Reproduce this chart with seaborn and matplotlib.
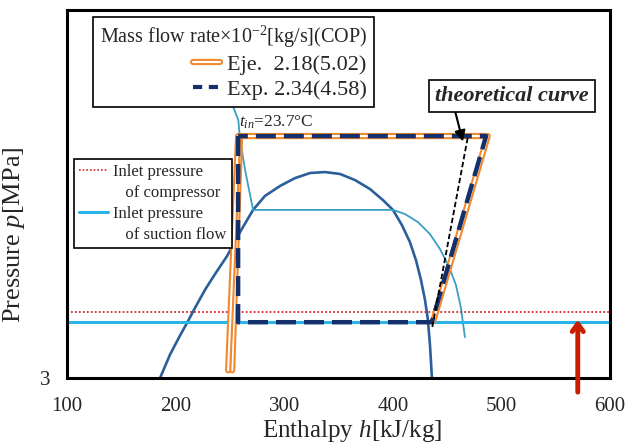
import numpy as np
import pandas as pd
import seaborn as sns
import matplotlib.pyplot as plt
import matplotlib.patheffects as pe
from matplotlib.lines import Line2D

# saturation dome of CO2, h [kJ/kg] vs p [MPa]
dome_h = [185.6, 194.8, 204.1, 210.5, 217.9, 227.1, 236.3, 247.3, 259.3, 271.3, 282.3,
          296.1, 309.9, 323.8, 337.6, 351.4, 365.2, 379.0, 391.0, 400.2, 408.5, 415.8,
          421.4, 426.0, 429.7, 432.4, 434.3, 436.1]
dome_p = [3.00, 3.32, 3.61, 3.81, 4.07, 4.40, 4.71, 5.09, 5.65, 6.22, 6.61,
          6.90, 7.14, 7.30, 7.33, 7.27, 7.08, 6.81, 6.49, 6.22, 5.82, 5.41,
          5.00, 4.59, 4.21, 3.86, 3.46, 3.00]

# isotherm t_in = 23.7 C
iso_h = [252.0, 257.7, 259.3, 264.0, 271.3, 400.2, 411.2, 423.2, 434.3, 443.5, 451.7,
         458.2, 462.8, 466.5]
iso_p = [9.85, 9.18, 8.43, 7.38, 6.22, 6.22, 6.11, 5.90, 5.60, 5.25, 4.87,
         4.49, 4.07, 3.58]

# Exp. cycle (closed)
exp_h = [257.5, 257.5, 436, 486, 257.5]
exp_p = [8.57, 3.82, 3.82, 8.57, 8.57]

# Eje. cycle (two legs on the left side)
eje_h = [437.5, 487.5, 257.5, 248.3]
eje_p = [3.85, 8.57, 8.57, 3.10]
eje2_h = [259.3, 252.0]
eje2_p = [8.57, 3.10]

# theoretical compression line
theo_h = [469, 436]
theo_p = [8.50, 3.70]

p_comp = 4.00      # inlet pressure of compressor
p_suct = 3.82      # inlet pressure of suction flow

x_ticks = [100, 200, 300, 400, 500, 600]
y_ticks = [3, 6, 9, 12]
y_ticklabels = ['3', '', '', '']

sns.set_style("white")
plt.rcParams['font.family'] = ['Liberation Serif', 'DejaVu Serif']
plt.rcParams['mathtext.fontset'] = 'custom'
plt.rcParams['mathtext.rm'] = 'Liberation Serif'
plt.rcParams['mathtext.it'] = 'Liberation Serif:italic'
plt.rcParams['mathtext.bf'] = 'Liberation Serif:bold'

orange = '#f0892e'
navy = '#14306b'
dome_c = '#2b5f9c'
teal = '#3a9fc2'
cyan = '#2bb5e6'
red = '#d8262a'

fig = plt.figure(figsize=(6.28, 4.43), dpi=100)
ax = fig.add_axes([0.107, 0.147, 0.864, 0.830])

def line(h, p, **kw):
    sns.lineplot(x=h, y=p, sort=False, estimator=None, ax=ax, **kw)

line(dome_h, dome_p, color=dome_c, lw=1.9)
line(iso_h, iso_p, color=teal, lw=1.3)

ax.axhline(p_comp, color=red, lw=1.3, ls=(0, (1, 1.2)))
ax.axhline(p_suct, color=cyan, lw=2.2)

dbl = [pe.Stroke(linewidth=4.5, foreground=orange), pe.Normal()]
line(eje2_h, eje2_p, color='white', lw=1.5, path_effects=dbl)
line(eje_h, eje_p, color='white', lw=1.5, path_effects=dbl)
line(exp_h, exp_p, color=navy, lw=3.2, dashes=(4.5, 1.8))
line(theo_h, theo_p, color='black', lw=1.3, dashes=(3, 1.5))

ax.set_yscale('log')
ax.set_xlim(100, 600)
ax.set_ylim(3, 14.8)
ax.set_xticks(x_ticks)
ax.set_xticklabels([str(v) for v in x_ticks])
ax.set_yticks(y_ticks)
ax.set_yticklabels(y_ticklabels)
ax.minorticks_off()
ax.tick_params(direction='in', length=5, width=1.5, labelsize=15)
ax.tick_params(axis='x', pad=14)
ax.tick_params(axis='y', pad=12)
for s in ax.spines.values():
    s.set_linewidth(2.2)
    s.set_color('black')

ax.set_xlabel('Enthalpy $h$[kJ/kg]', fontsize=18)
ax.set_ylabel('Pressure $p$[MPa]', fontsize=19)
ax.xaxis.set_label_coords(0.524, -0.108)
ax.yaxis.set_label_coords(-0.075, 0.389)

ax.text(258.5, 8.75, '$t_{in}$=23.7°C', fontsize=12.5, ha='left', va='bottom')

ax.annotate('theoretical curve', xy=(464.6, 8.37), xytext=(510, 10.2),
            fontsize=16, fontweight='bold', fontstyle='italic', ha='center', va='center',
            bbox=dict(boxstyle='square,pad=0.28', fc='white', ec='black', lw=1.2),
            arrowprops=dict(arrowstyle='-|>', color='black', lw=1.5,
                            relpos=(0.12, 0), shrinkA=0, shrinkB=0))

ax.annotate('', xy=(570.5, 3.86), xytext=(570.5, 2.82), annotation_clip=False,
            arrowprops=dict(arrowstyle='->, head_length=0.55, head_width=0.4',
                            color='#c81e00', lw=3.5, shrinkA=0, shrinkB=0))

h_eje = Line2D([], [], color='white', lw=1.5, path_effects=dbl)
h_exp = Line2D([], [], color=navy, lw=3.0, dashes=(2.2, 1.6))
leg1 = ax.legend([h_eje, h_exp], ['Eje.  2.18(5.02)', 'Exp. 2.34(4.58)'],
                 title='Mass flow rate×10$^{-2}$[kg/s](COP)', title_fontsize=14.5,
                 fontsize=16, alignment='right', loc='upper left',
                 bbox_to_anchor=(0.048, 0.981), borderaxespad=0, fancybox=False,
                 edgecolor='black', framealpha=1, handlelength=1.2, handletextpad=0.35,
                 labelspacing=0.2, borderpad=0.3)
leg1.get_frame().set_linewidth(1.2)
ax.add_artist(leg1)

h_red = Line2D([], [], color=red, lw=1.2, ls=(0, (1, 1.2)))
h_cyan = Line2D([], [], color=cyan, lw=2.2)
h_none = Line2D([], [], color='none')
leg2 = ax.legend([h_red, h_none, h_cyan, h_none],
                 ['Inlet pressure', '   of compressor', 'Inlet pressure', '   of suction flow'],
                 fontsize=12, loc='upper left', bbox_to_anchor=(0.013, 0.595),
                 borderaxespad=0, fancybox=False, edgecolor='black', framealpha=1,
                 handlelength=1.75, handletextpad=0.3, labelspacing=0.3, borderpad=0.3)
leg2.get_frame().set_linewidth(1.2)

fig.savefig('out.png', dpi=100)
